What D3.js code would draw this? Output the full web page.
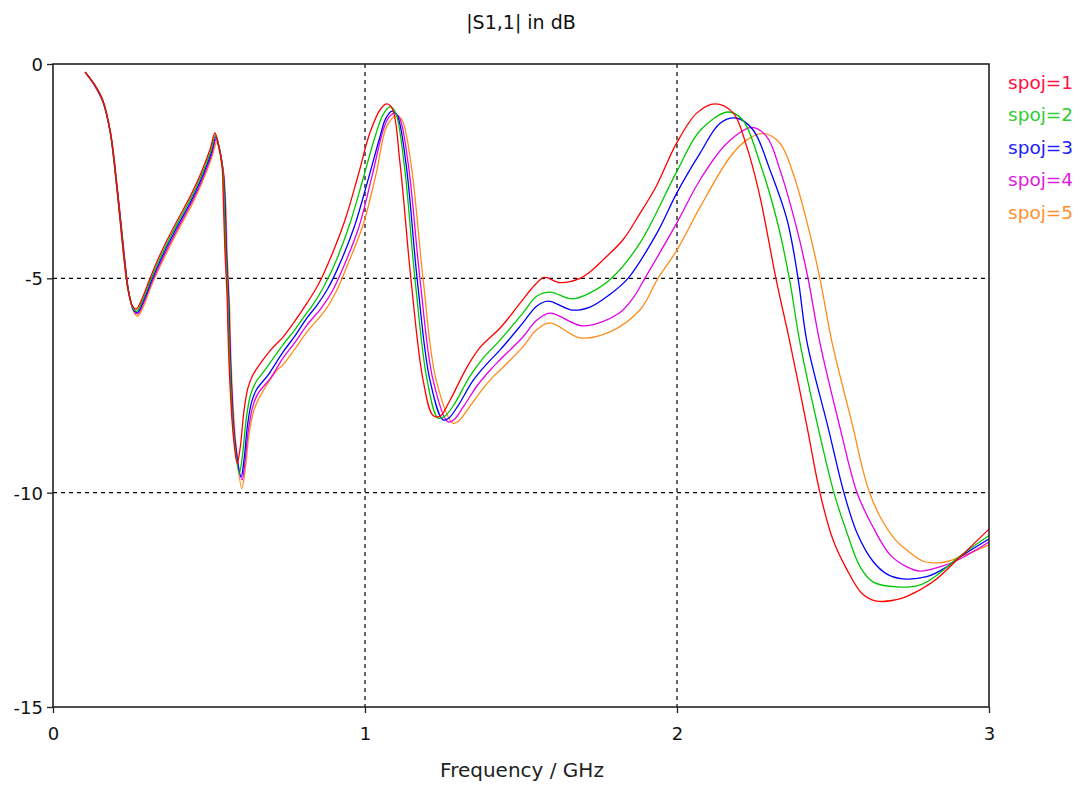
<!DOCTYPE html>
<html>
<head>
<meta charset="utf-8">
<script src="https://cdn.jsdelivr.net/npm/d3@7/dist/d3.min.js"></script>
<style>
  html, body { margin: 0; padding: 0; background: #ffffff; }
  svg { display: block; }
  text { font-family: "DejaVu Sans", Verdana, sans-serif; }
</style>
</head>
<body>
<svg id="chart" width="1084" height="785"></svg>
<script>
// ---- data ----
const title = "|S1,1| in dB";
const xLabel = "Frequency / GHz";
const xTicks = [0, 1, 2, 3];
const yTicks = [0, -5, -10, -15];
const seriesNames = ["spoj=1", "spoj=2", "spoj=3", "spoj=4", "spoj=5"];
const seriesColors = ["#ff0000", "#00c800", "#0000ff", "#e600e6", "#ff8c1a"];
const legendColors = ["#ff1040", "#33cc33", "#2020ff", "#e020e0", "#ff9030"];

const spoj1 = [[0.103,-0.19],[0.135,-0.5],[0.16,-0.85],[0.183,-1.55],[0.205,-2.9],[0.224,-4.3],[0.24,-5.25],[0.255,-5.65],[0.267,-5.72],[0.285,-5.48],[0.311,-5.0],[0.343,-4.45],[0.391,-3.75],[0.439,-3.1],[0.471,-2.6],[0.503,-2.0],[0.519,-1.61],[0.529,-1.85],[0.542,-2.4],[0.545,-2.94],[0.551,-4.34],[0.558,-5.43],[0.561,-6.28],[0.567,-7.44],[0.577,-8.6],[0.59,-9.31],[0.6,-8.95],[0.612,-8.1],[0.625,-7.55],[0.641,-7.25],[0.663,-7.0],[0.7,-6.65],[0.737,-6.37],[0.775,-6.0],[0.814,-5.58],[0.85,-5.15],[0.888,-4.55],[0.936,-3.64],[0.978,-2.6],[1.016,-1.6],[1.05,-1.05],[1.07,-0.93],[1.088,-1.05],[1.112,-2.3],[1.147,-5.0],[1.186,-7.37],[1.218,-8.2],[1.24,-8.22],[1.272,-7.85],[1.327,-7.07],[1.37,-6.6],[1.433,-6.16],[1.497,-5.58],[1.545,-5.15],[1.575,-4.98],[1.625,-5.1],[1.689,-5.0],[1.721,-4.85],[1.763,-4.57],[1.827,-4.1],[1.88,-3.5],[1.93,-2.9],[2.0,-1.83],[2.064,-1.14],[2.122,-0.93],[2.18,-1.14],[2.224,-1.94],[2.266,-3.1],[2.317,-5.0],[2.362,-6.5],[2.417,-8.47],[2.458,-10.0],[2.5,-11.1],[2.545,-11.8],[2.593,-12.35],[2.64,-12.53],[2.7,-12.5],[2.737,-12.42],[2.82,-12.08],[2.907,-11.5],[3.0,-10.85]];

const spoj2 = [[0.103,-0.19],[0.135,-0.5],[0.16,-0.86],[0.183,-1.57],[0.205,-2.93],[0.225,-4.33],[0.241,-5.28],[0.257,-5.7],[0.269,-5.77],[0.287,-5.52],[0.313,-5.04],[0.345,-4.5],[0.393,-3.8],[0.441,-3.15],[0.473,-2.65],[0.505,-2.05],[0.521,-1.66],[0.531,-1.9],[0.544,-2.45],[0.548,-3.0],[0.554,-4.4],[0.561,-5.5],[0.564,-6.35],[0.57,-7.5],[0.58,-8.7],[0.597,-9.55],[0.607,-9.15],[0.619,-8.3],[0.632,-7.75],[0.648,-7.45],[0.679,-7.14],[0.737,-6.55],[0.775,-6.2],[0.814,-5.8],[0.83,-5.65],[0.866,-5.22],[0.904,-4.65],[0.951,-3.74],[0.993,-2.7],[1.03,-1.75],[1.058,-1.18],[1.08,-1.0],[1.097,-1.12],[1.125,-2.3],[1.16,-5.0],[1.199,-7.37],[1.234,-8.26],[1.255,-8.22],[1.285,-7.95],[1.335,-7.3],[1.38,-6.85],[1.433,-6.44],[1.506,-5.81],[1.55,-5.42],[1.593,-5.32],[1.663,-5.48],[1.721,-5.34],[1.79,-5.0],[1.881,-4.18],[2.0,-2.5],[2.074,-1.55],[2.163,-1.12],[2.21,-1.3],[2.266,-2.31],[2.32,-3.64],[2.36,-5.0],[2.394,-6.5],[2.452,-8.47],[2.503,-10.0],[2.545,-10.94],[2.587,-11.73],[2.628,-12.08],[2.705,-12.2],[2.78,-12.15],[2.843,-11.87],[2.9,-11.52],[3.0,-11.0]];

const spoj3 = [[0.103,-0.19],[0.135,-0.51],[0.16,-0.87],[0.183,-1.58],[0.206,-2.95],[0.226,-4.36],[0.242,-5.3],[0.258,-5.73],[0.27,-5.8],[0.288,-5.56],[0.314,-5.08],[0.346,-4.55],[0.394,-3.85],[0.442,-3.2],[0.474,-2.7],[0.506,-2.1],[0.522,-1.7],[0.532,-1.92],[0.545,-2.5],[0.55,-3.05],[0.556,-4.45],[0.563,-5.55],[0.566,-6.4],[0.572,-7.55],[0.582,-8.75],[0.603,-9.63],[0.612,-9.25],[0.623,-8.45],[0.636,-7.9],[0.652,-7.6],[0.69,-7.25],[0.737,-6.72],[0.775,-6.35],[0.814,-5.92],[0.844,-5.65],[0.88,-5.25],[0.918,-4.68],[0.966,-3.79],[1.008,-2.75],[1.046,-1.75],[1.066,-1.28],[1.087,-1.1],[1.103,-1.2],[1.131,-2.3],[1.167,-5.0],[1.208,-7.37],[1.25,-8.3],[1.27,-8.25],[1.3,-7.95],[1.345,-7.4],[1.39,-7.0],[1.433,-6.67],[1.506,-6.04],[1.55,-5.65],[1.587,-5.53],[1.663,-5.74],[1.721,-5.67],[1.78,-5.4],[1.843,-5.0],[1.936,-3.94],[2.0,-3.0],[2.074,-2.08],[2.138,-1.38],[2.19,-1.26],[2.244,-1.54],[2.298,-2.47],[2.353,-3.64],[2.388,-5.0],[2.417,-6.5],[2.484,-8.47],[2.535,-10.0],[2.577,-10.94],[2.628,-11.6],[2.673,-11.9],[2.724,-12.01],[2.8,-11.96],[2.865,-11.73],[2.907,-11.5],[3.0,-11.08]];

const spoj4 = [[0.103,-0.19],[0.135,-0.52],[0.16,-0.88],[0.184,-1.6],[0.207,-2.97],[0.227,-4.38],[0.243,-5.33],[0.259,-5.76],[0.271,-5.83],[0.289,-5.6],[0.315,-5.12],[0.347,-4.6],[0.395,-3.9],[0.443,-3.25],[0.475,-2.75],[0.507,-2.15],[0.523,-1.75],[0.533,-1.97],[0.546,-2.55],[0.551,-3.1],[0.557,-4.5],[0.564,-5.6],[0.567,-6.45],[0.573,-7.6],[0.584,-8.8],[0.606,-9.7],[0.615,-9.3],[0.626,-8.55],[0.64,-8.0],[0.656,-7.7],[0.7,-7.3],[0.737,-6.86],[0.775,-6.5],[0.814,-6.09],[0.859,-5.7],[0.895,-5.3],[0.933,-4.7],[0.981,-3.79],[1.023,-2.6],[1.06,-1.5],[1.077,-1.24],[1.093,-1.15],[1.11,-1.25],[1.138,-2.3],[1.176,-5.0],[1.218,-7.37],[1.266,-8.35],[1.285,-8.3],[1.315,-8.0],[1.36,-7.5],[1.4,-7.15],[1.433,-6.9],[1.506,-6.37],[1.55,-5.98],[1.593,-5.81],[1.699,-6.11],[1.813,-5.82],[1.86,-5.45],[1.897,-5.0],[2.0,-3.7],[2.074,-2.7],[2.16,-1.85],[2.24,-1.48],[2.288,-1.7],[2.33,-2.47],[2.385,-3.87],[2.42,-5.0],[2.458,-6.5],[2.522,-8.47],[2.577,-10.0],[2.628,-10.8],[2.683,-11.45],[2.737,-11.73],[2.78,-11.83],[2.843,-11.73],[2.9,-11.57],[3.0,-11.15]];

const spoj5 = [[0.103,-0.19],[0.135,-0.52],[0.16,-0.89],[0.185,-1.62],[0.208,-3.0],[0.228,-4.4],[0.244,-5.36],[0.26,-5.8],[0.272,-5.88],[0.29,-5.65],[0.316,-5.16],[0.348,-4.65],[0.396,-3.95],[0.444,-3.3],[0.476,-2.8],[0.508,-2.2],[0.525,-1.82],[0.535,-2.05],[0.548,-2.6],[0.553,-3.15],[0.559,-4.55],[0.566,-5.65],[0.569,-6.5],[0.575,-7.65],[0.586,-8.85],[0.605,-9.9],[0.617,-9.4],[0.628,-8.65],[0.643,-8.1],[0.66,-7.8],[0.718,-7.14],[0.737,-7.02],[0.775,-6.65],[0.814,-6.25],[0.872,-5.75],[0.908,-5.3],[0.946,-4.65],[0.994,-3.75],[1.036,-2.55],[1.07,-1.45],[1.1,-1.21],[1.118,-1.3],[1.147,-2.3],[1.186,-5.0],[1.228,-7.37],[1.282,-8.38],[1.3,-8.33],[1.33,-8.05],[1.375,-7.6],[1.41,-7.3],[1.433,-7.14],[1.506,-6.6],[1.55,-6.2],[1.593,-6.04],[1.689,-6.39],[1.785,-6.25],[1.881,-5.74],[1.939,-5.0],[2.0,-4.34],[2.074,-3.34],[2.17,-2.17],[2.224,-1.77],[2.277,-1.62],[2.33,-1.85],[2.372,-2.55],[2.417,-3.7],[2.458,-5.0],[2.497,-6.5],[2.564,-8.47],[2.59,-9.3],[2.615,-9.95],[2.65,-10.55],[2.7,-11.1],[2.737,-11.34],[2.79,-11.6],[2.833,-11.64],[2.87,-11.6],[2.907,-11.5],[3.0,-11.22]];

const seriesData = [spoj1, spoj2, spoj3, spoj4, spoj5];

// ---- layout ----
const svg = d3.select("#chart");
const L = 53, R = 989, T = 64, B = 707;
const x = d3.scaleLinear().domain([0, 3]).range([L, R]);
const y = d3.scaleLinear().domain([-15, 0]).range([B, T]);

// grid
const g = svg.append("g");
g.selectAll("line.vg").data([1, 2]).enter().append("line")
  .attr("x1", d => x(d)).attr("x2", d => x(d)).attr("y1", T).attr("y2", B)
  .attr("stroke", "#000").attr("stroke-width", 1.2).attr("stroke-dasharray", "4,4");
g.selectAll("line.hg").data([-5, -10]).enter().append("line")
  .attr("x1", L).attr("x2", R).attr("y1", d => y(d)).attr("y2", d => y(d))
  .attr("stroke", "#000").attr("stroke-width", 1.2).attr("stroke-dasharray", "4,4");

// series
const line = d3.line().x(d => x(d[0])).y(d => y(d[1])).curve(d3.curveCatmullRom.alpha(0.5));
svg.append("defs").append("clipPath").attr("id", "clip")
  .append("rect").attr("x", L).attr("y", T).attr("width", R - L).attr("height", B - T);
const lines = svg.append("g").attr("clip-path", "url(#clip)");
seriesData.slice().reverse().forEach((s, i) => {
  const idx = seriesData.length - 1 - i;
  lines.append("path").datum(s).attr("d", line)
    .attr("fill", "none").attr("stroke", seriesColors[idx]).attr("stroke-width", 1.3);
});

// frame
svg.append("rect").attr("x", L).attr("y", T).attr("width", R - L).attr("height", B - T)
  .attr("fill", "none").attr("stroke", "#222").attr("stroke-width", 1.6);

// axes
const xAxis = d3.axisBottom(x).tickValues(xTicks).tickSize(6).tickFormat(d3.format("d"));
const yAxis = d3.axisLeft(y).tickValues(yTicks).tickSize(6).tickFormat(d => d === 0 ? "0" : "-" + Math.abs(d));
const gx = svg.append("g").attr("transform", `translate(0,${B})`).call(xAxis);
const gy = svg.append("g").attr("transform", `translate(${L},0)`).call(yAxis);
[gx, gy].forEach(a => {
  a.select(".domain").remove();
  a.selectAll(".tick line").attr("stroke", "#222").attr("stroke-width", 1.3);
  a.selectAll(".tick text").attr("fill", "#111").style("font-size", "18px")
    .style("font-family", "'DejaVu Sans', sans-serif");
});
gx.selectAll(".tick text").attr("dy", "0").attr("y", 33);
gy.selectAll(".tick text").attr("x", -10).attr("dy", "0.36em");

// title and axis label
svg.append("text").attr("x", 521).attr("y", 29).attr("text-anchor", "middle")
  .style("font-size", "19px").attr("fill", "#111").text(title);
svg.append("text").attr("x", 522).attr("y", 777).attr("text-anchor", "middle")
  .style("font-size", "20px").attr("fill", "#222").text(xLabel);

// legend
const leg = svg.append("g");
seriesNames.forEach((n, i) => {
  leg.append("text").attr("x", 1008).attr("y", 82 + i * 32.6).attr("dy", "0.36em")
    .style("font-size", "18.5px").attr("fill", legendColors[i]).text(n);
});
</script>
</body>
</html>
